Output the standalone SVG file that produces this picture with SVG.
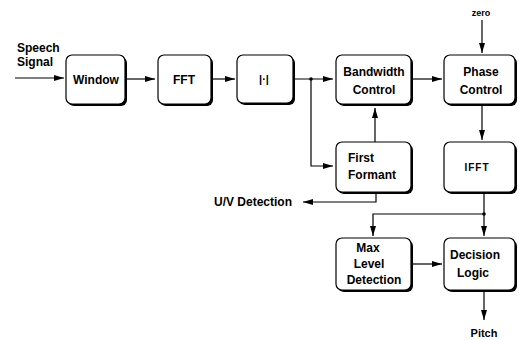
<svg xmlns="http://www.w3.org/2000/svg" width="519" height="340" viewBox="0 0 519 340">
<defs>
<style>
.sh{fill:#000}
.bx{fill:#fff;stroke:#000;stroke-width:1.2}
text{font-family:"Liberation Sans",Arial,sans-serif;font-weight:bold;font-size:12px;fill:#000}
.c{text-anchor:middle}
.ln{fill:none;stroke:#000;stroke-width:1.2}
</style>
<marker id="ah" viewBox="0 0 10 6" refX="10" refY="3" markerWidth="10" markerHeight="6" markerUnits="userSpaceOnUse" orient="auto">
<path d="M0,0 L10,3 L0,6 z" fill="#000"/>
</marker>
</defs>
<rect width="519" height="340" fill="#fff"/>
<text x="17" y="52">Speech</text>
<text x="17" y="66">Signal</text>
<text x="481" y="16" class="c" style="font-size:9px">zero</text>
<text x="253" y="206" class="c">U/V Detection</text>
<text x="484" y="337" class="c" style="font-size:11px">Pitch</text>

<g id="window"><rect class="sh" x="68" y="57" width="59" height="49" rx="6"/><rect class="bx" x="66" y="55" width="59" height="49" rx="6"/><text x="96" y="84" class="c">Window</text></g>
<g id="fft"><rect class="sh" x="160" y="57" width="53" height="49" rx="6"/><rect class="bx" x="158" y="55" width="53" height="49" rx="6"/><text x="184" y="84" class="c">FFT</text></g>
<g id="abs"><rect class="sh" x="239" y="57" width="56" height="48" rx="6"/><rect class="bx" x="237" y="55" width="56" height="48" rx="6"/><text x="264" y="83" class="c" style="font-size:11px;fill:#000">|·|</text></g>
<g id="bandwidth"><rect class="sh" x="338" y="57" width="75" height="49" rx="6"/><rect class="bx" x="336" y="55" width="75" height="49" rx="6"/><text x="374" y="76" class="c">Bandwidth</text><text x="374" y="94" class="c">Control</text></g>
<g id="phase"><rect class="sh" x="446" y="57" width="71" height="49" rx="6"/><rect class="bx" x="444" y="55" width="71" height="49" rx="6"/><text x="481" y="76" class="c">Phase</text><text x="481" y="94" class="c">Control</text></g>
<g id="formant"><rect class="sh" x="338" y="144" width="75" height="50" rx="6"/><rect class="bx" x="336" y="142" width="75" height="50" rx="6"/><text x="348" y="162">First</text><text x="348" y="179">Formant</text></g>
<g id="ifft"><rect class="sh" x="446" y="144" width="71" height="50" rx="6"/><rect class="bx" x="444" y="142" width="71" height="50" rx="6"/><text x="477" y="171" class="c" style="font-size:10px;letter-spacing:1px">IFFT</text></g>
<g id="maxlevel"><rect class="sh" x="338" y="240" width="75" height="52" rx="6"/><rect class="bx" x="336" y="238" width="75" height="52" rx="6"/><text x="368" y="252" class="c">Max</text><text x="369" y="268" class="c">Level</text><text x="374" y="284" class="c">Detection</text></g>
<g id="decision"><rect class="sh" x="446" y="240" width="71" height="52" rx="6"/><rect class="bx" x="444" y="238" width="71" height="52" rx="6"/><text x="475" y="259" class="c">Decision</text><text x="473" y="277" class="c">Logic</text></g>

<g id="connectors">
<line class="ln" x1="15" y1="78" x2="64" y2="78" marker-end="url(#ah)"/>
<line class="ln" x1="127" y1="79" x2="155" y2="79" marker-end="url(#ah)"/>
<line class="ln" x1="213" y1="79" x2="235" y2="79" marker-end="url(#ah)"/>
<line class="ln" x1="295" y1="79" x2="333" y2="79" marker-end="url(#ah)"/>
<circle cx="311" cy="79" r="1.8" fill="#000"/>
<path class="ln" d="M311,79 V166 H333" marker-end="url(#ah)"/>
<line class="ln" x1="375" y1="142" x2="375" y2="108" marker-end="url(#ah)"/>
<line class="ln" x1="413" y1="79" x2="442" y2="79" marker-end="url(#ah)"/>
<line class="ln" x1="482" y1="20" x2="482" y2="53" marker-end="url(#ah)"/>
<line class="ln" x1="482" y1="106" x2="482" y2="140" marker-end="url(#ah)"/>
<path class="ln" d="M376,194 V202 H303" marker-end="url(#ah)"/>
<line class="ln" x1="484" y1="194" x2="484" y2="236" marker-end="url(#ah)"/>
<circle cx="484" cy="214" r="1.8" fill="#000"/>
<path class="ln" d="M484,214 H373 V236" marker-end="url(#ah)"/>
<line class="ln" x1="413" y1="264" x2="442" y2="264" marker-end="url(#ah)"/>
<line class="ln" x1="484" y1="292" x2="484" y2="320" marker-end="url(#ah)"/>
</g>
</svg>
